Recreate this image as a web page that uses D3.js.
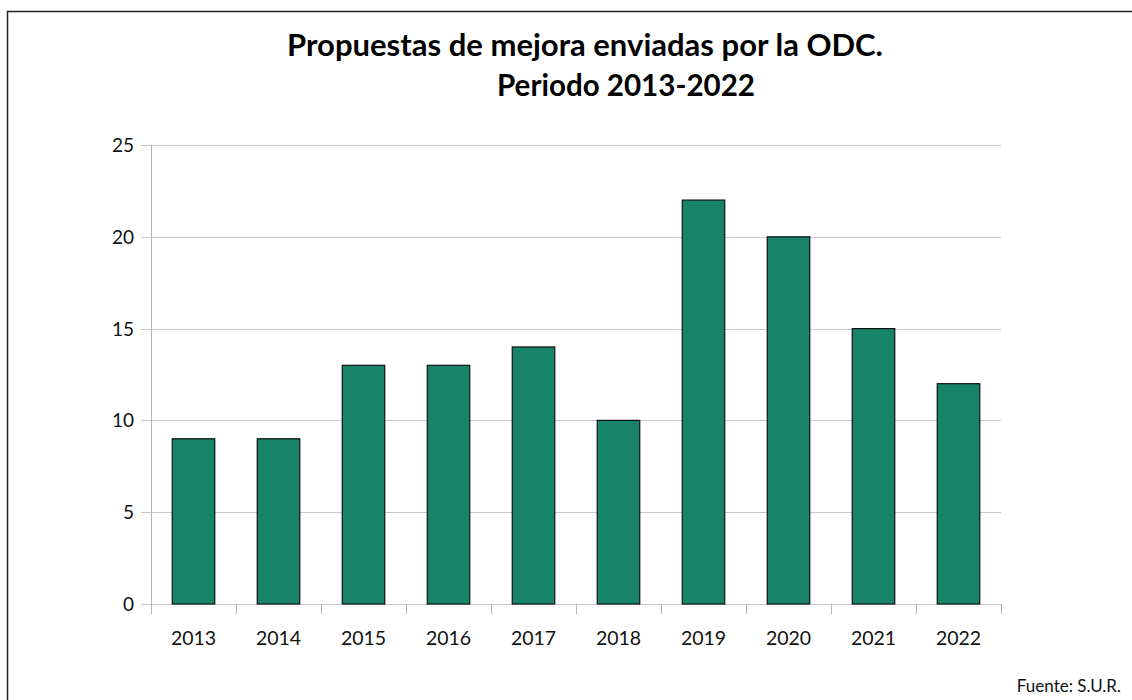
<!DOCTYPE html>
<html>
<head>
<meta charset="utf-8">
<script src="https://cdn.jsdelivr.net/npm/d3@7"></script>
<style>
  body { margin: 0; background: #fff; }
  text { font-family: "Lato", "Open Sans", sans-serif; }
</style>
</head>
<body>
<script>
    var years = ["2013", "2014", "2015", "2016", "2017", "2018", "2019", "2020", "2021", "2022"];
    var propuestas = [9, 9, 13, 13, 14, 10, 22, 20, 15, 12];
    var yTicks = [0, 5, 10, 15, 20, 25];

    var width = 1132, height = 700;
    var plotLeft = 151, plotRight = 1001, plotTop = 145, plotBottom = 604;

    var svg = d3.select("body").append("svg")
        .attr("width", width)
        .attr("height", height);

    // frame
    svg.append("rect")
        .attr("x", 7.5).attr("y", 11.5)
        .attr("width", width).attr("height", height)
        .attr("fill", "none")
        .attr("stroke", "#222")
        .attr("stroke-width", 1.5);

    var x = d3.scaleBand().domain(years).range([plotLeft, plotRight]);
    var y = d3.scaleLinear().domain([0, 25]).range([plotBottom, plotTop]);

    // gridlines
    svg.append("g")
        .selectAll("line")
        .data(yTicks)
        .enter().append("line")
        .attr("x1", plotLeft - 10)
        .attr("x2", plotRight)
        .attr("y1", function(d){ return Math.round(y(d)) + 0.5; })
        .attr("y2", function(d){ return Math.round(y(d)) + 0.5; })
        .attr("stroke", "#c8c8c8");

    // y axis line
    svg.append("line")
        .attr("x1", plotLeft + 0.5).attr("x2", plotLeft + 0.5)
        .attr("y1", plotTop).attr("y2", plotBottom + 10)
        .attr("stroke", "#b3b3b3");

    // x ticks
    svg.append("g")
        .selectAll("line")
        .data(years.concat(["end"]))
        .enter().append("line")
        .attr("x1", function(d, i){ return Math.round(plotLeft + i * x.step()) + 0.5; })
        .attr("x2", function(d, i){ return Math.round(plotLeft + i * x.step()) + 0.5; })
        .attr("y1", plotBottom)
        .attr("y2", plotBottom + 10)
        .attr("stroke", "#b3b3b3");

    // y labels
    svg.append("g")
        .selectAll("text")
        .data(yTicks)
        .enter().append("text")
        .attr("x", 134)
        .attr("y", function(d){ return y(d) + 7; })
        .attr("text-anchor", "end")
        .attr("font-size", 19)
        .attr("fill", "#111")
        .text(function(d){ return d; });

    // x labels
    svg.append("g")
        .selectAll("text")
        .data(years)
        .enter().append("text")
        .attr("x", function(d){ return x(d) + x.bandwidth() / 2; })
        .attr("y", 645)
        .attr("text-anchor", "middle")
        .attr("font-size", 19.5)
        .attr("fill", "#111")
        .text(function(d){ return d; });

    // bars
    svg.append("g")
        .selectAll("rect")
        .data(propuestas)
        .enter().append("rect")
        .attr("x", function(d, i){ return x(years[i]) + x.bandwidth() / 4; })
        .attr("y", function(d){ return y(d); })
        .attr("width", x.bandwidth() / 2)
        .attr("height", function(d){ return plotBottom - y(d); })
        .attr("fill", "#178469")
        .attr("stroke", "#111")
        .attr("stroke-width", 1.2);

    // title
    svg.append("text")
        .attr("x", 287).attr("y", 56)
        .attr("font-size", 30).attr("font-weight", "bold")
        .attr("textLength", 596).attr("lengthAdjust", "spacingAndGlyphs")
        .text("Propuestas de mejora enviadas por la ODC.");
    svg.append("text")
        .attr("x", 497).attr("y", 96)
        .attr("font-size", 30).attr("font-weight", "bold")
        .attr("textLength", 258).attr("lengthAdjust", "spacingAndGlyphs")
        .text("Periodo 2013-2022");

    // source
    svg.append("text")
        .attr("x", 1121).attr("y", 692)
        .attr("text-anchor", "end")
        .attr("font-size", 17)
        .attr("fill", "#111")
        .text("Fuente: S.U.R.");
</script>
</body>
</html>
